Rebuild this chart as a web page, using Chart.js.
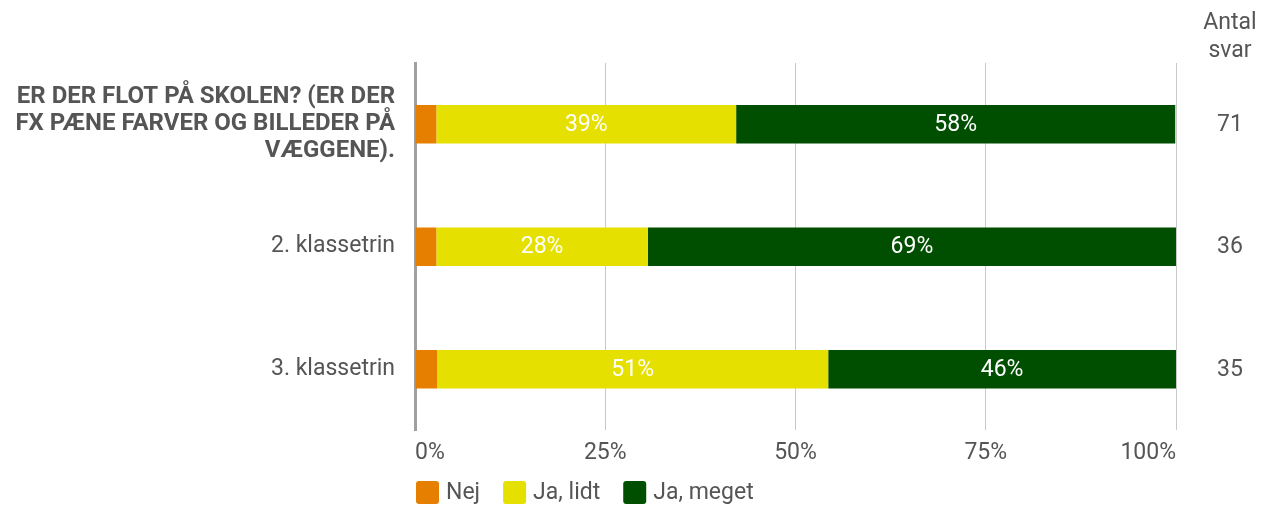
<!DOCTYPE html>
<html>
<head>
<meta charset="utf-8">
<script src="https://cdn.jsdelivr.net/npm/chart.js@4"></script>
<style>
  html, body { margin: 0; padding: 0; background: #fff; }
  #wrap { width: 1262px; height: 506px; }
</style>
</head>
<body>
<div id="wrap"><canvas id="chart"></canvas></div>
<script>
// data
const categories = [
    ['ER DER FLOT PÅ SKOLEN? (ER DER', 'FX PÆNE FARVER OG BILLEDER PÅ', 'VÆGGENE).'],
    '2. klassetrin',
    '3. klassetrin'
];
const nej = [2.8, 2.8, 2.9];
const jaLidt = [39.4, 27.8, 51.4];
const jaMeget = [57.7, 69.4, 45.7];
const antalSvar = [71, 36, 35];
const xTicks = [0, 25, 50, 75, 100];

const textColor = '#555555';
const fontSize = 23;
Chart.defaults.font.family = 'Roboto, sans-serif';
Chart.defaults.font.size = fontSize;
Chart.defaults.color = textColor;

// white percentage labels inside the bars
const barLabels = {
    id: 'barLabels',
    afterDatasetsDraw(chart) {
        const ctx = chart.ctx;
        ctx.save();
        ctx.fillStyle = '#fff';
        ctx.font = fontSize + 'px Roboto, sans-serif';
        ctx.textAlign = 'center';
        ctx.textBaseline = 'middle';
        chart.data.datasets.forEach((ds, di) => {
            if (di === 0) return;
            chart.getDatasetMeta(di).data.forEach((bar, i) => {
                const p = bar.getProps(['x', 'y', 'base']);
                ctx.fillText(Math.round(ds.data[i]) + '%', (p.x + p.base) / 2, p.y + 1);
            });
        });
        ctx.restore();
    }
};

// "Antal svar" column on the right and the legend below
const extras = {
    id: 'extras',
    afterDraw(chart) {
        const ctx = chart.ctx;
        const x = 1230;
        ctx.save();
        ctx.fillStyle = textColor;
        ctx.font = fontSize + 'px Roboto, sans-serif';
        ctx.textAlign = 'center';
        ctx.textBaseline = 'middle';
        ctx.fillText('Antal', x, 23);
        ctx.fillText('svar', x, 51);
        const y = chart.scales.y;
        antalSvar.forEach((n, i) => {
            ctx.fillText(String(n), x, y.getPixelForValue(i) + 1);
        });

        // legend
        ctx.textAlign = 'left';
        let lx = chart.chartArea.left + 1;
        const ly = 492;
        chart.data.datasets.forEach(ds => {
            ctx.fillStyle = ds.backgroundColor;
            ctx.beginPath();
            ctx.roundRect(lx, ly - 11, 23, 23, 3);
            ctx.fill();
            lx += 30;
            ctx.fillStyle = textColor;
            ctx.fillText(ds.label, lx, ly + 1);
            lx += ctx.measureText(ds.label).width + 23;
        });
        ctx.restore();
    }
};

new Chart(document.getElementById('chart'), {
    type: 'bar',
    data: {
        labels: categories,
        datasets: [
            { label: 'Nej', data: nej, backgroundColor: '#e67e00' },
            { label: 'Ja, lidt', data: jaLidt, backgroundColor: '#e6e000' },
            { label: 'Ja, meget', data: jaMeget, backgroundColor: '#004f00' }
        ]
    },
    options: {
        indexAxis: 'y',
        responsive: true,
        maintainAspectRatio: false,
        animation: false,
        barPercentage: 0.314,
        categoryPercentage: 1,
        layout: { padding: { top: 63, right: 86, bottom: 30 } },
        plugins: {
            tooltip: { enabled: false },
            legend: { display: false }
        },
        scales: {
            x: {
                stacked: true,
                min: 0,
                max: 100,
                afterBuildTicks(scale) {
                    scale.ticks = xTicks.map(v => ({ value: v }));
                },
                ticks: {
                    align: 'inner',
                    padding: 9,
                    color: textColor,
                    callback: v => v + '%'
                },
                grid: { color: '#c8c8c8', lineWidth: 1, drawTicks: false },
                border: { display: false }
            },
            y: {
                stacked: true,
                afterFit(scale) { scale.width = 415; },
                ticks: {
                    padding: 12,
                    color: textColor,
                    font: ctx => ctx.index === 0
                        ? { size: 24, weight: 'bold', lineHeight: 1.12 }
                        : { size: fontSize, lineHeight: 1.15 }
                },
                grid: { display: false },
                border: { display: true, color: '#a0a0a0', width: 3 }
            }
        }
    },
    plugins: [barLabels, extras]
});
</script>
</body>
</html>
